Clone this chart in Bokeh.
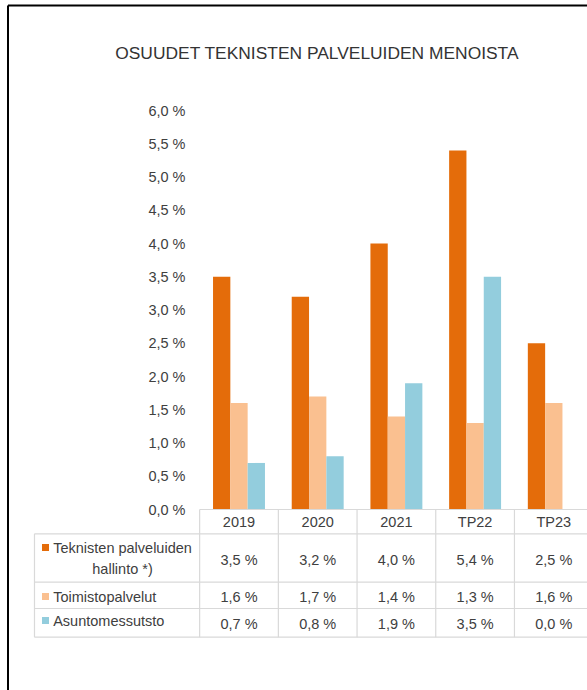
import numpy as np
from bokeh.plotting import figure
from bokeh.models import ColumnDataSource, Range1d
from bokeh.transform import dodge
from bokeh.core.properties import value
from bokeh.embed import file_html
from bokeh.resources import INLINE

# ---- data ----
categories = ["2019", "2020", "2021", "TP22", "TP23"]
hallinto = [3.5, 3.2, 4.0, 5.4, 2.5]
toimisto = [1.6, 1.7, 1.4, 1.3, 1.6]
asunto = [0.7, 0.8, 1.9, 3.5, 0.0]
series_names = ["Teknisten palveluiden hallinto *)", "Toimistopalvelut", "Asuntomessutsto"]
series_colors = ["#E46C0A", "#FAC090", "#93CDDD"]
y_ticks = [0.0, 0.5, 1.0, 1.5, 2.0, 2.5, 3.0, 3.5, 4.0, 4.5, 5.0, 5.5, 6.0]
title_text = "OSUUDET TEKNISTEN PALVELUIDEN MENOISTA"

def pct(v):
    return f"{v:.1f}".replace(".", ",") + " %"

# ---- geometry (pixels) ----
W, H = 587, 690
CX0, CW = 238.5, 78.7      # centre of first category, category width
Y0, PPU = 509.0, 66.5      # pixel of 0 %, pixels per 1 %

def X(px):
    return (px - CX0) / CW

def Y(py):
    return (Y0 - py) / PPU

FONT = value("Liberation Sans")
FS = "14.5px"
TXT = "#404040"
GRID = "#d9d9d9"

p = figure(width=W, height=H, output_backend="svg", toolbar_location=None,
           x_range=Range1d(X(0), X(W)), y_range=Range1d(Y(H), Y(0)),
           x_axis_location=None, y_axis_location=None, min_border=0)
p.grid.visible = False
p.outline_line_color = None
p.background_fill_color = "white"

idx = np.arange(len(categories))
src = ColumnDataSource(dict(idx=idx, h=hallinto, t=toimisto, a=asunto))

bw = 0.22
for col, off, color in zip(["h", "t", "a"], [-bw, 0.0, bw], series_colors):
    p.vbar(x=dodge("idx", off, range=p.x_range), top=col, bottom=0, width=bw,
           source=src, fill_color=color, line_color=None)

# title
p.text(x=[X(316.7)], y=[Y(52.5)], text=[title_text], text_font=FONT,
       text_font_size="17.4px", text_color="#333333", text_align="center",
       text_baseline="middle")

# y tick labels
p.text(x=[X(185)] * len(y_ticks), y=y_ticks, text=[pct(t) for t in y_ticks],
       text_font=FONT, text_font_size=FS, text_color=TXT,
       text_align="right", text_baseline="middle")

# ---- data table under the chart ----
header_bottom, r1_bottom, r2_bottom, table_bottom = 533.3, 581.7, 608.0, 636.7
left = X(34)
right = X(W)
bounds = [i - 0.5 for i in range(len(categories) + 1)]

# horizontal lines
p.segment(x0=[bounds[0], left, left, left, left],
          y0=[0, Y(header_bottom), Y(r1_bottom), Y(r2_bottom), Y(table_bottom)],
          x1=[right] * 5,
          y1=[0, Y(header_bottom), Y(r1_bottom), Y(r2_bottom), Y(table_bottom)],
          line_color=GRID, line_width=1.2)
# vertical lines
p.segment(x0=bounds, y0=[0] * len(bounds), x1=bounds,
          y1=[Y(table_bottom)] * len(bounds), line_color=GRID, line_width=1.2)
p.segment(x0=[left], y0=[Y(header_bottom)], x1=[left], y1=[Y(table_bottom)],
          line_color=GRID, line_width=1.2)

# header labels
p.text(x=idx, y=[Y(521.7)] * len(categories), text=categories, text_font=FONT,
       text_font_size=FS, text_color=TXT, text_align="center",
       text_baseline="middle")

# values
row_y = [Y(559), Y(596), Y(623)]
for vals, ry in zip([hallinto, toimisto, asunto], row_y):
    p.text(x=idx, y=[ry] * len(vals), text=[pct(v) for v in vals], text_font=FONT,
           text_font_size=FS, text_color=TXT, text_align="center",
           text_baseline="middle")

# row headers with legend keys
key_y = [Y(547), Y(596), Y(620)]
p.scatter(x=[X(45)] * 3, y=key_y, marker="square", size=7, fill_color=series_colors,
          line_color=None)
first_words = series_names[0].split(" ")
line1 = " ".join(first_words[:2])
line2 = " ".join(first_words[2:])
p.text(x=[X(52.7)] * 3, y=key_y, text=[line1, series_names[1], series_names[2]],
       text_font=FONT, text_font_size=FS, text_color=TXT, text_align="left",
       text_baseline="middle")
p.text(x=[X(122)], y=[Y(568)], text=[line2], text_font=FONT, text_font_size=FS,
       text_color=TXT, text_align="center", text_baseline="middle")

# outer frame (top and left edges visible)
p.segment(x0=[X(7.5), X(7.5)], y0=[Y(5), Y(5)], x1=[X(W), X(7.5)], y1=[Y(5), Y(H)],
          line_color="black", line_width=2)

open("out.html", "w").write(file_html(p, INLINE))
